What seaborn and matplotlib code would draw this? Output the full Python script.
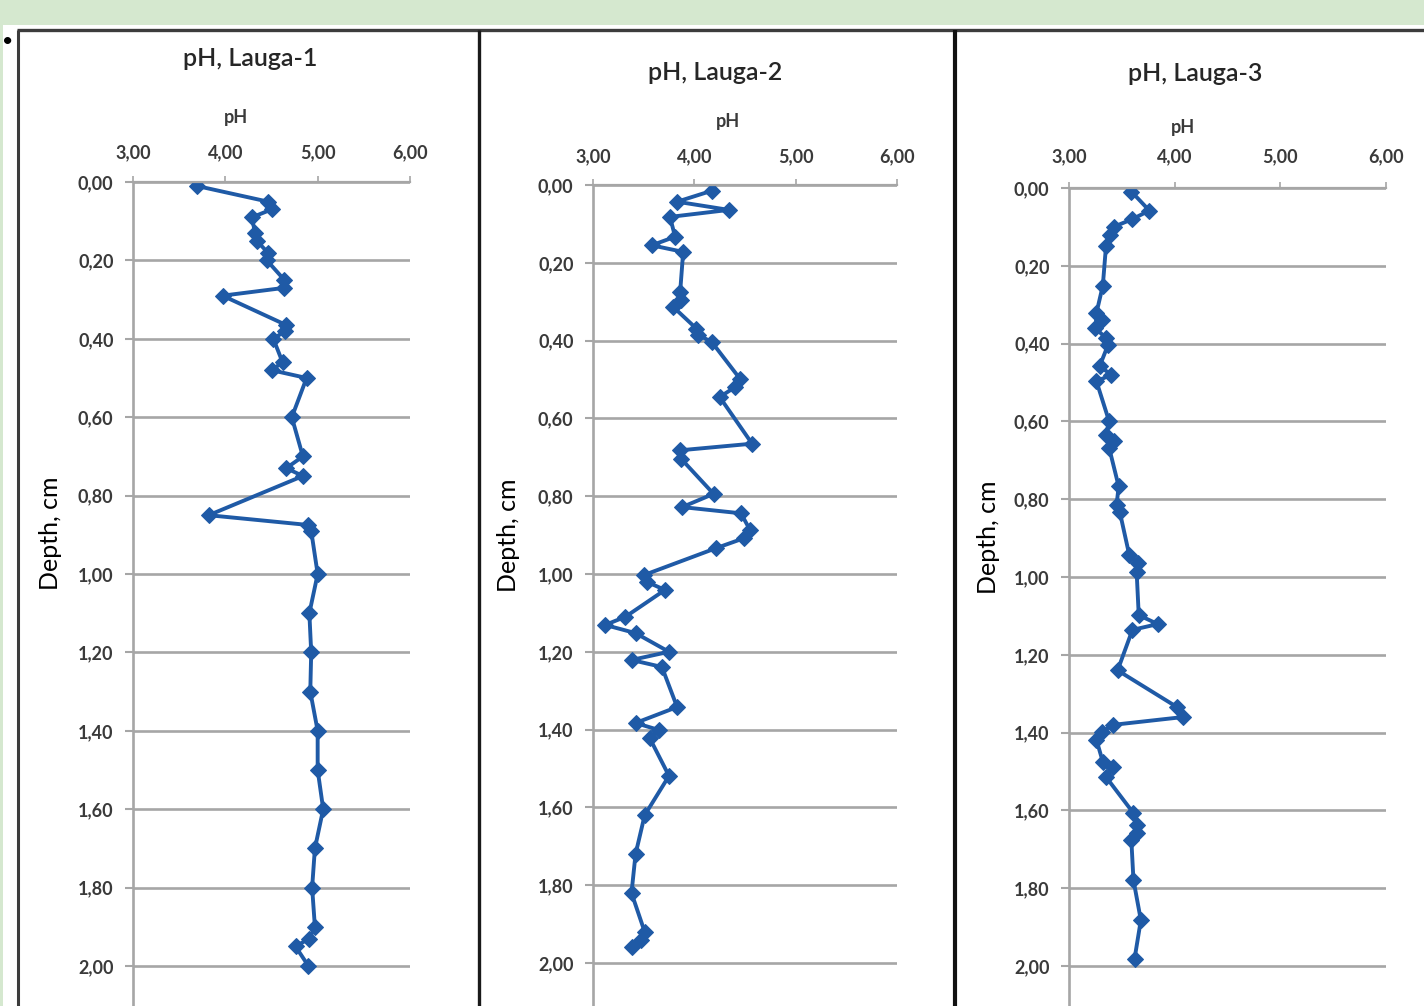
import matplotlib
matplotlib.use("Agg")
import matplotlib.pyplot as plt
import seaborn as sns
import pandas as pd
from matplotlib.lines import Line2D
from matplotlib.patches import Rectangle

# ---------------- data ----------------
titles = ["pH, Lauga-1", "pH, Lauga-2", "pH, Lauga-3"]
x_label = "pH"
y_label = "Depth, cm"
x_ticks = [3.0, 4.0, 5.0, 6.0]
x_tick_labels = ["3,00", "4,00", "5,00", "6,00"]
y_ticks = [0.0, 0.2, 0.4, 0.6, 0.8, 1.0, 1.2, 1.4, 1.6, 1.8, 2.0]
y_tick_labels = ["0,00", "0,20", "0,40", "0,60", "0,80", "1,00",
                 "1,20", "1,40", "1,60", "1,80", "2,00"]

depth_1 = [0.01, 0.05, 0.07, 0.09, 0.13, 0.15, 0.18, 0.20, 0.25, 0.27, 0.29,
           0.365, 0.38, 0.40, 0.46, 0.48, 0.50, 0.60, 0.70, 0.73, 0.75, 0.85,
           0.875, 0.89, 1.00, 1.10, 1.20, 1.30, 1.40, 1.50, 1.60, 1.70, 1.80,
           1.90, 1.93, 1.95, 2.00]
ph_1 = [3.69, 4.46, 4.50, 4.29, 4.32, 4.34, 4.46, 4.45, 4.64, 4.64, 3.97,
        4.66, 4.65, 4.52, 4.62, 4.50, 4.88, 4.72, 4.84, 4.66, 4.84, 3.82,
        4.90, 4.93, 5.00, 4.91, 4.93, 4.92, 5.00, 5.00, 5.06, 4.97, 4.94,
        4.97, 4.91, 4.76, 4.90]

depth_2 = [0.015, 0.043, 0.064, 0.082, 0.133, 0.155, 0.172, 0.275, 0.296, 0.313,
           0.369, 0.386, 0.403, 0.498, 0.52, 0.545, 0.665, 0.682, 0.704, 0.794,
           0.828, 0.844, 0.887, 0.908, 0.934, 1.003, 1.02, 1.041, 1.11, 1.131,
           1.152, 1.20, 1.221, 1.239, 1.342, 1.383, 1.401, 1.422, 1.519, 1.62,
           1.72, 1.82, 1.92, 1.94, 1.96]
ph_2 = [4.17, 3.83, 4.34, 3.76, 3.81, 3.58, 3.89, 3.86, 3.87, 3.79,
        4.02, 4.04, 4.17, 4.45, 4.40, 4.25, 4.57, 3.86, 3.87, 4.19,
        3.88, 4.46, 4.55, 4.49, 4.21, 3.50, 3.53, 3.71, 3.32, 3.12,
        3.42, 3.75, 3.38, 3.68, 3.83, 3.42, 3.65, 3.56, 3.75, 3.51,
        3.42, 3.38, 3.51, 3.47, 3.38]

depth_3 = [0.009, 0.058, 0.08, 0.099, 0.12, 0.15, 0.251, 0.321, 0.34, 0.36,
           0.386, 0.403, 0.458, 0.48, 0.497, 0.60, 0.634, 0.651, 0.668, 0.767,
           0.815, 0.832, 0.943, 0.965, 0.986, 1.098, 1.121, 1.136, 1.24, 1.334,
           1.36, 1.38, 1.398, 1.419, 1.475, 1.488, 1.514, 1.607, 1.637, 1.658,
           1.676, 1.779, 1.882, 1.982]
ph_3 = [3.59, 3.76, 3.60, 3.43, 3.39, 3.35, 3.32, 3.26, 3.31, 3.25,
        3.35, 3.37, 3.29, 3.40, 3.26, 3.38, 3.35, 3.43, 3.38, 3.47,
        3.45, 3.48, 3.57, 3.65, 3.64, 3.66, 3.84, 3.60, 3.46, 4.02,
        4.08, 3.42, 3.31, 3.26, 3.32, 3.42, 3.35, 3.61, 3.64, 3.64,
        3.59, 3.61, 3.68, 3.62]

series = [(depth_1, ph_1), (depth_2, ph_2), (depth_3, ph_3)]

# ---------------- layout (pixels) ----------------
W, H = 1424, 1006
panel_geom = [  # x of pH=3, x of pH=6, y of depth 0, px per unit depth
    (133, 410, 182, 392),
    (593, 897, 185, 389),
    (1069, 1386, 188, 389),
]
title_pos = [(250, 58), (715, 73), (1195, 74)]
xlabel_pos = [(236, 117), (728, 121), (1183, 127)]
ylabel_pos = [(50, 533), (508, 535), (988, 537)]
xtick_label_y = [150, 154, 154]
y_max = 2.2

line_color = "#1f5aa6"
grid_color = "#a6a6a6"
tick_text = "#3a3a3a"

sns.set_theme(style="white")
plt.rcParams["font.family"] = ["Lato", "DejaVu Sans"]

fig = plt.figure(figsize=(W / 100, H / 100), dpi=100)
fig.patch.set_facecolor("#d5e8cf")

def fx(x):
    return x / W

def fy(y):
    return 1 - y / H

# white sheet
fig.add_artist(Rectangle((fx(3), 0), 1 - fx(3), fy(25), transform=fig.transFigure,
                         facecolor="white", edgecolor="none", zorder=0))
# panel frames
frame_kw = dict(transform=fig.transFigure, solid_capstyle="butt", zorder=1)
fig.add_artist(Line2D([fx(17), 1], [fy(30), fy(30)], color="#3c3c3c", lw=2.4, **frame_kw))
fig.add_artist(Line2D([fx(18), fx(18)], [fy(30), 0], color="#3c3c3c", lw=2.2, **frame_kw))
fig.add_artist(Line2D([fx(479), fx(479)], [fy(30), 0], color="#1a1a1a", lw=2.4, **frame_kw))
fig.add_artist(Line2D([fx(955), fx(955)], [fy(30), 0], color="#111111", lw=3.0, **frame_kw))
fig.text(fx(8), fy(41), "\u2022", ha="center", va="center", fontsize=14, color="black")

for i, ((depth, ph), (x3, x6, y0, ppu)) in enumerate(zip(series, panel_geom)):
    height_px = y_max * ppu
    ax = fig.add_axes([fx(x3), (H - y0 - height_px) / H, (x6 - x3) / W, height_px / H])
    ax.set_facecolor("none")
    df = pd.DataFrame({"pH": ph, "Depth": depth})
    sns.lineplot(data=df, x="pH", y="Depth", sort=False, estimator=None, ax=ax,
                 color=line_color, lw=2.8, marker="D", markersize=8.5,
                 markeredgecolor=line_color, markerfacecolor=line_color)
    ax.set_xlim(3.0, 6.0)
    ax.set_ylim(y_max, 0.0)
    ax.xaxis.tick_top()
    ax.set_xticks(x_ticks)
    ax.set_xticklabels(x_tick_labels)
    ax.set_yticks(y_ticks)
    ax.set_yticklabels(y_tick_labels)
    pad_x = (y0 - xtick_label_y[i]) * 0.72 - 12
    ax.tick_params(axis="x", top=True, bottom=False, direction="out", length=4,
                   width=1.2, color=grid_color, labelsize=13, labelcolor=tick_text,
                   pad=pad_x)
    ax.tick_params(axis="y", left=True, direction="out", length=6, width=1.5,
                   color=grid_color, labelsize=13, labelcolor=tick_text, pad=8)
    ax.yaxis.grid(True, color=grid_color, lw=1.9)
    ax.xaxis.grid(False)
    for side in ["right", "bottom"]:
        ax.spines[side].set_visible(False)
    ax.spines["top"].set_color(grid_color)
    ax.spines["top"].set_linewidth(1.6)
    ax.spines["left"].set_color(grid_color)
    ax.spines["left"].set_linewidth(1.9)
    ax.set_xlabel("")
    ax.set_ylabel("")
    for lab in ax.get_xticklabels() + ax.get_yticklabels():
        lab.set_fontweight("bold")

    tx, ty = title_pos[i]
    fig.text(fx(tx), fy(ty), titles[i], ha="center", va="center", fontsize=18,
             fontweight="semibold", color="#262626")
    lx, ly = xlabel_pos[i]
    fig.text(fx(lx), fy(ly), x_label, ha="center", va="center", fontsize=13,
             fontweight="bold", color=tick_text)
    yx, yy = ylabel_pos[i]
    fig.text(fx(yx), fy(yy), y_label, ha="center", va="center", fontsize=18,
             rotation=90, color="black")

fig.savefig("out.png", dpi=100)
